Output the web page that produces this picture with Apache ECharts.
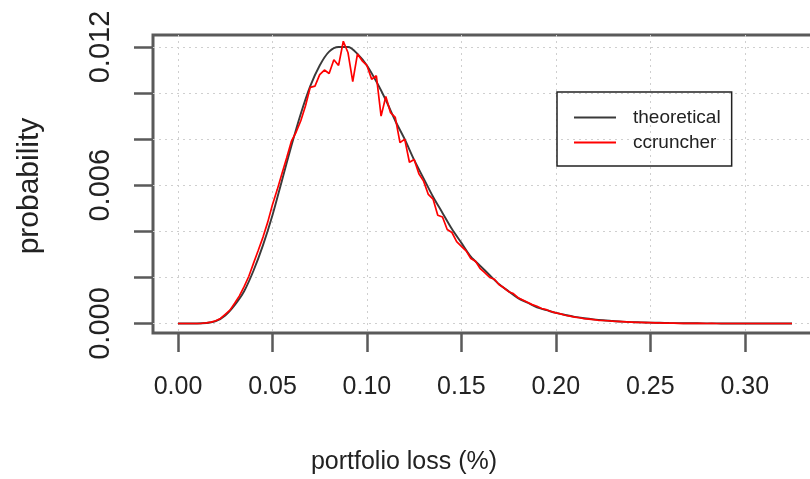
<!DOCTYPE html>
<html>
<head>
<meta charset="utf-8">
<script src="https://cdn.jsdelivr.net/npm/echarts@6/dist/echarts.min.js"></script>
<style>
  html, body { margin: 0; padding: 0; background: #fff; }
  #chart { width: 810px; height: 479px; }
</style>
</head>
<body>
<div id="chart"></div>
<script>
// x grid of the two curves (portfolio loss, %)
const theoStep = 0.005;
const simStep = 0.0025;

// theoretical density, one value per 0.005
const theoretical = [
  0, 0, 0, 0.00002, 0.0001, 0.00035, 0.0008, 0.0014, 0.0023, 0.0034,
  0.0047, 0.0062, 0.0077, 0.0091, 0.0103, 0.0112, 0.0118, 0.0120, 0.0120, 0.0117,
  0.0112, 0.0105, 0.0097, 0.0088, 0.0080, 0.0071, 0.0063, 0.0055, 0.0048, 0.0041,
  0.0035, 0.0029, 0.0025, 0.0021, 0.0017, 0.0014, 0.0011, 0.0009, 0.0007, 0.00058,
  0.00046, 0.00037, 0.00029, 0.00023, 0.00018, 0.00014, 0.00011, 0.00008, 0.00006, 0.00005,
  0.00004, 0.00003, 0.00002, 0.000015, 0.00001, 0.000008, 0.000006, 0.000004, 0.000003, 0.000002,
  0.000001, 0, 0, 0, 0, 0
];

// simulated (ccruncher) density, one value per 0.0025
const ccruncher = [
  0, 0, 0, 0, 0, 0.00001, 0.00003, 0.00006, 0.00012, 0.00022,
  0.00040, 0.00058, 0.00088, 0.00120, 0.00160, 0.00205, 0.00262, 0.00318, 0.00375, 0.00440,
  0.00515, 0.00580, 0.00650, 0.00718, 0.00790, 0.00830, 0.00880, 0.00945, 0.01025, 0.01030,
  0.01080, 0.01100, 0.01085, 0.01145, 0.01120, 0.01225, 0.01175, 0.01050, 0.01170, 0.01140,
  0.01120, 0.01060, 0.01075, 0.00900, 0.00985, 0.00915, 0.00895, 0.00785, 0.00800, 0.00700,
  0.00712, 0.00650, 0.00618, 0.00560, 0.00540, 0.00470, 0.00462, 0.00408, 0.00395, 0.00355,
  0.00335, 0.00315, 0.00282, 0.00270, 0.00238, 0.00220, 0.00200, 0.00192, 0.00168, 0.00155,
  0.00138, 0.00130, 0.00112, 0.00102, 0.00092, 0.00082, 0.00075, 0.00065, 0.00060, 0.00052,
  0.00046, 0.00042, 0.00036, 0.00032, 0.00028, 0.00025, 0.00021, 0.00019, 0.00017, 0.00014,
  0.00013, 0.00012, 0.00010, 0.00009, 0.00008, 0.00007, 0.00006, 0.00005, 0.00005, 0.00004,
  0.00004, 0.00003, 0.00003, 0.00002, 0.00002, 0.00002, 0.00001, 0.00001, 0.00001, 0.00001,
  0.00001, 0.00001, 0, 0.00001, 0, 0, 0, 0, 0, 0,
  0, 0, 0, 0, 0, 0, 0, 0, 0, 0, 0
];

const xTicks = [0, 0.05, 0.10, 0.15, 0.20, 0.25, 0.30];
const yTicks = [0, 0.002, 0.004, 0.006, 0.008, 0.010, 0.012];
const yTickLabels = [0, 0.006, 0.012];
const seriesNames = ['theoretical', 'ccruncher'];

const toPairs = (vals, step) => vals.map((v, i) => [+(i * step).toFixed(4), v]);

const chart = echarts.init(document.getElementById('chart'));
const axisGray = '#5a5a5a';
const gridDots = { color: '#cfcfcf', type: [2, 4], width: 1 };

chart.setOption({
  backgroundColor: '#fff',
  animation: false,
  grid: {
    left: 153, top: 35, width: 697, height: 298,
    outerBoundsMode: 'none', containLabel: false,
    show: true, borderColor: axisGray, borderWidth: 3
  },
  xAxis: {
    type: 'value',
    min: -0.01323,
    max: 0.3557,
    axisLine: { show: false, onZero: false },
    axisTick: { customValues: xTicks, length: 19, lineStyle: { color: axisGray, width: 2.5 } },
    axisLabel: {
      customValues: xTicks, margin: 42, fontSize: 25, color: '#222',
      fontFamily: 'Liberation Sans', formatter: v => v.toFixed(2)
    },
    splitLine: { show: true, lineStyle: gridDots }
  },
  yAxis: {
    type: 'value',
    min: -0.000412,
    max: 0.012521,
    axisLine: { show: false, onZero: false },
    axisTick: { customValues: yTicks, length: 19, lineStyle: { color: axisGray, width: 2.5 } },
    axisLabel: {
      customValues: yTickLabels, rotate: 90, margin: 38, fontSize: 29, color: '#222',
      fontFamily: 'Liberation Sans', formatter: v => v.toFixed(3)
    },
    splitLine: { show: true, lineStyle: gridDots }
  },
  legend: {
    data: seriesNames,
    orient: 'vertical',
    left: 557, top: 92,
    padding: [16, 11, 14, 16],
    itemWidth: 42, itemHeight: 20, itemGap: 6,
    borderColor: '#222', borderWidth: 1.5,
    itemStyle: { opacity: 0 },
    textStyle: { fontSize: 19, color: '#222', fontFamily: 'Liberation Sans', padding: [0, 0, 0, 12] }
  },
  graphic: [
    {
      type: 'text', x: 404, y: 462,
      style: { text: 'portfolio loss (%)', fontSize: 25, fontFamily: 'Liberation Sans', fill: '#222', align: 'center', verticalAlign: 'middle' }
    },
    {
      type: 'text', x: 30, y: 186, rotation: Math.PI / 2,
      style: { text: 'probability', fontSize: 30, fontFamily: 'Liberation Sans', fill: '#222', align: 'center', verticalAlign: 'middle' }
    }
  ],
  series: [
    {
      name: seriesNames[0], type: 'line', showSymbol: false, symbol: 'none', smooth: 0.3,
      data: toPairs(theoretical, theoStep),
      lineStyle: { color: '#3a3a3a', width: 1.9 }, itemStyle: { color: '#3a3a3a' }
    },
    {
      name: seriesNames[1], type: 'line', showSymbol: false, symbol: 'none',
      data: toPairs(ccruncher, simStep),
      lineStyle: { color: '#ff0000', width: 1.7 }, itemStyle: { color: '#ff0000' }
    }
  ]
});
</script>
</body>
</html>
